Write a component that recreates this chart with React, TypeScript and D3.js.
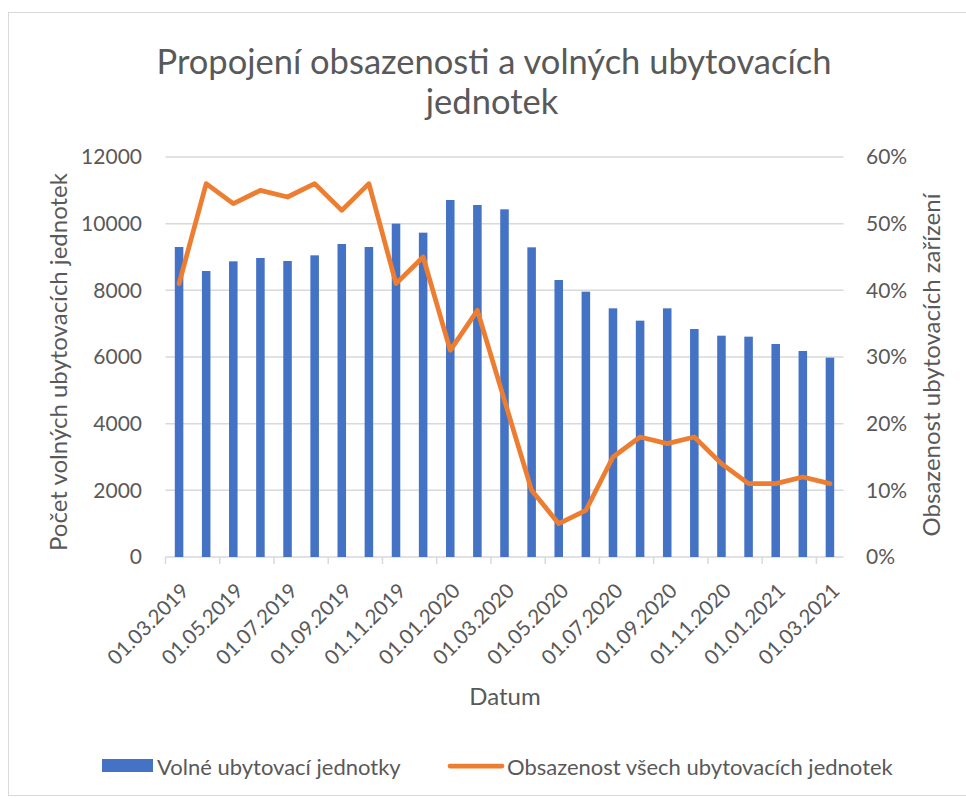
import React from 'react';
import * as d3 from 'd3';

const dates = [
  '01.03.2019', '01.04.2019', '01.05.2019', '01.06.2019', '01.07.2019', '01.08.2019',
  '01.09.2019', '01.10.2019', '01.11.2019', '01.12.2019', '01.01.2020', '01.02.2020',
  '01.03.2020', '01.04.2020', '01.05.2020', '01.06.2020', '01.07.2020', '01.08.2020',
  '01.09.2020', '01.10.2020', '01.11.2020', '01.12.2020', '01.01.2021', '01.02.2021',
  '01.03.2021',
];
// Volné ubytovací jednotky
const volne = [
  9300, 8580, 8870, 8970, 8880, 9050, 9390, 9300, 10000, 9730, 10710, 10560,
  10430, 9290, 8310, 7960, 7460, 7090, 7460, 6840, 6640, 6610, 6390, 6180, 5980,
];
// Obsazenost všech ubytovacích jednotek
const obsazenost = [
  0.41, 0.56, 0.53, 0.55, 0.54, 0.56, 0.52, 0.56, 0.41, 0.45, 0.31, 0.37,
  0.235, 0.10, 0.05, 0.07, 0.15, 0.18, 0.17, 0.18, 0.14, 0.11, 0.11, 0.12, 0.11,
];
const leftTicks = [0, 2000, 4000, 6000, 8000, 10000, 12000];
const rightTicks = [0, 0.1, 0.2, 0.3, 0.4, 0.5, 0.6];

const font = 'Lato, "Open Sans", sans-serif';
const textColor = '#595959';
const grid = '#d9d9d9';
const blue = '#4472C4';
const orange = '#ED7D31';

export default function App() {
  const left = 165.5, right = 843.5, top = 157, bottom = 557;

  const x = d3.scaleBand<string>().domain(dates).range([left, right]).padding(0);
  const yL = d3.scaleLinear().domain([0, 12000]).range([bottom, top]);
  const yR = d3.scaleLinear().domain([0, 0.6]).range([bottom, top]);
  const bw = x.bandwidth() * 0.315;
  const cx = (d: string) => (x(d) as number) + x.bandwidth() / 2;

  const line = d3.line<number>()
    .x((d, i) => cx(dates[i]))
    .y(d => yR(d));

  const pct = d3.format('.0%');

  return (
    <svg width={966} height={799} style={{position: 'absolute', left: 0, top: 0}} fontFamily={font}>
      <rect x={0} y={0} width={966} height={799} fill="#fff"/>
      <rect x={8.5} y={12.5} width={970} height={783} fill="#fff" stroke={grid}/>

      {/* title */}
      <text x={494} y={74} textAnchor="middle" fontSize={34.5} fill={textColor}>
        Propojení obsazenosti a volných ubytovacích
      </text>
      <text x={492} y={114} textAnchor="middle" fontSize={34.5} fill={textColor}>jednotek</text>

      {/* grid */}
      <g className="grid">
        {leftTicks.map(t => (
          <line key={t} x1={left} x2={right} y1={yL(t)} y2={yL(t)} stroke={grid} strokeWidth={1.5}/>
        ))}
        {dates.filter((d, i) => i % 2 === 0).map(d => (
          <line key={d} x1={x(d)} x2={x(d)} y1={bottom} y2={bottom + 7} stroke={grid} strokeWidth={1.5}/>
        ))}
      </g>

      {/* bars */}
      <g className="bars">
        {volne.map((v, i) => (
          <rect key={i} x={cx(dates[i]) - bw / 2} y={yL(v)} width={bw} height={bottom - yL(v)} fill={blue}/>
        ))}
      </g>

      {/* line */}
      <path d={line(obsazenost) || ''} fill="none" stroke={orange} strokeWidth={4.75}
        strokeLinejoin="round" strokeLinecap="round"/>

      {/* axes */}
      <g fill={textColor}>
        <g fontSize={21}>
          {leftTicks.map(t => (
            <text key={t} x={142} y={yL(t)} dy="0.35em" textAnchor="end">{t}</text>
          ))}
          {rightTicks.map(t => (
            <text key={t} x={866} y={yR(t)} dy="0.35em" textAnchor="start">{pct(t)}</text>
          ))}
        </g>
        <g fontSize={20.5}>
          {dates.filter((d, i) => i % 2 === 0).map(d => (
            <text key={d} transform={`translate(${cx(d) + 6},${587}) rotate(-45)`} dy="0.35em" textAnchor="end">{d}</text>
          ))}
        </g>
        <g fontSize={24}>
          <text x={505} y={705} textAnchor="middle">Datum</text>
          <text transform={`translate(67,362) rotate(-90)`} textAnchor="middle">Počet volných ubytovacích jednotek</text>
          <text transform={`translate(940,365) rotate(-90)`} textAnchor="middle">Obsazenost ubytovacích zařízení</text>
        </g>
      </g>

      {/* legend */}
      <g fontSize={22} fill={textColor}>
        <rect x={102} y={759} width={51} height={13} fill={blue}/>
        <text x={157} y={775}>Volné ubytovací jednotky</text>
        <line x1={450} x2={502} y1={766} y2={766} stroke={orange} strokeWidth={4.75} strokeLinecap="round"/>
        <text x={507} y={775}>Obsazenost všech ubytovacích jednotek</text>
      </g>
    </svg>
  );
}
